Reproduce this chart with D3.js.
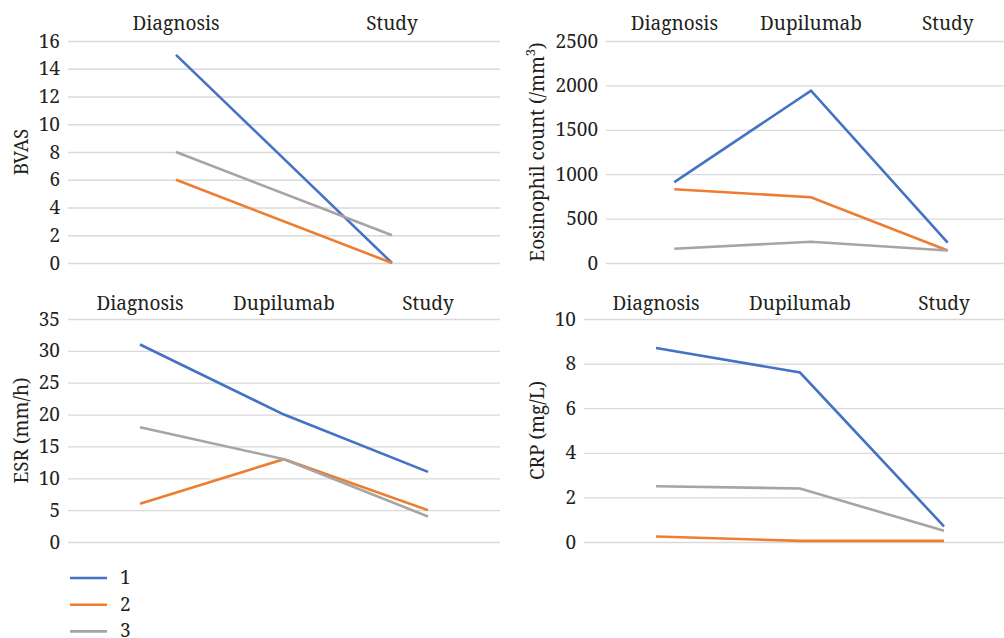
<!DOCTYPE html>
<head>
  <meta charset="utf-8">
  <title>BVAS, eosinophils, ESR, CRP</title>
  <style>
    body { margin: 0; background: #fff; }
  </style>
</head>
<body>
<script src="https://cdn.jsdelivr.net/npm/d3@7"></script>
<script>

    // categories for each panel
    var bvasCats = ["Diagnosis", "Study"];
    var timeCats = ["Diagnosis", "Dupilumab", "Study"];
    var seriesNames = ["1", "2", "3"];
    var colors = ["#4472c4", "#ed7d31", "#a5a5a5"];

    // values, one array per patient
    var bvas1 = [15, 0], bvas2 = [6, 0], bvas3 = [8, 2];
    var eos1 = [910, 1940, 230], eos2 = [830, 740, 140], eos3 = [160, 240, 140];
    var esr1 = [31, 20, 11], esr2 = [6, 13, 5], esr3 = [18, 13, 4];
    var crp1 = [8.7, 7.6, 0.7], crp2 = [0.25, 0.05, 0.05], crp3 = [2.5, 2.4, 0.5];

    var bvasTicks = [0, 2, 4, 6, 8, 10, 12, 14, 16];
    var eosTicks = [0, 500, 1000, 1500, 2000, 2500];
    var esrTicks = [0, 5, 10, 15, 20, 25, 30, 35];
    var crpTicks = [0, 2, 4, 6, 8, 10];

    var W = 1004, H = 638;
    var FONT = "'Noto Serif', 'Liberation Serif', serif",
        FS = "19px",
        INK = "#231f20";

    var svg = d3.select("body").append("svg")
        .attr("width", W)
        .attr("height", H);

    var panels = [
      { cats: bvasCats, series: [bvas1, bvas2, bvas3], ticks: bvasTicks, label: "BVAS",
        x0: 68, x1: 500, top: 41, bottom: 263, catY: 30, labelX: 28 },
      { cats: timeCats, series: [eos1, eos2, eos3], ticks: eosTicks, label: "Eosinophil count (/mm",
        sup: "3", x0: 606, x1: 1016, top: 41, bottom: 263, catY: 30, labelX: 544 },
      { cats: timeCats, series: [esr1, esr2, esr3], ticks: esrTicks, label: "ESR (mm/h)",
        x0: 68, x1: 500, top: 319, bottom: 542, catY: 310, labelX: 28 },
      { cats: timeCats, series: [crp1, crp2, crp3], ticks: crpTicks, label: "CRP (mg/L)",
        x0: 584, x1: 1016, top: 319, bottom: 542, catY: 310, labelX: 544 }
    ];

    panels.forEach(function(p) {
      var g = svg.append("g");

      var x = d3.scaleBand().domain(p.cats).range([p.x0, p.x1]);
      var y = d3.scaleLinear()
          .domain([0, d3.max(p.ticks)])
          .range([p.bottom, p.top]);

      // gridlines + tick labels
      var yAxis = d3.axisLeft(y)
          .tickValues(p.ticks)
          .tickFormat(d3.format("d"))
          .tickSize(-(p.x1 - p.x0))
          .tickPadding(8);
      var ga = g.append("g")
          .attr("transform", "translate(" + p.x0 + ",0)")
          .call(yAxis);
      ga.select(".domain").remove();
      ga.selectAll(".tick line").attr("stroke", "#d9d9d9").attr("stroke-width", 1.3);
      ga.selectAll(".tick text")
          .attr("fill", INK)
          .style("font-size", FS)
          .style("font-family", FONT);

      // category labels on top
      g.selectAll(".cat")
          .data(p.cats)
          .enter().append("text")
          .attr("x", function(d) { return x(d) + x.bandwidth() / 2; })
          .attr("y", p.catY)
          .attr("text-anchor", "middle")
          .attr("fill", INK)
          .style("font-size", FS)
          .style("font-family", FONT)
          .text(function(d) { return d; });

      // y axis title
      var yMid = (p.top + p.bottom) / 2;
      var t = g.append("text")
          .attr("transform", "translate(" + p.labelX + "," + yMid + ") rotate(-90)")
          .attr("text-anchor", "middle")
          .attr("fill", INK)
          .style("font-size", FS)
          .style("font-family", FONT)
          .text(p.label);
      if (p.sup) {
        t.append("tspan").attr("baseline-shift", "super").style("font-size", "13px").text(p.sup);
        t.append("tspan").text(")");
      }

      var line = d3.line()
          .x(function(d, i) { return x(p.cats[i]) + x.bandwidth() / 2; })
          .y(function(d) { return y(d); });

      p.series.forEach(function(s, i) {
        g.append("path")
            .datum(s)
            .attr("fill", "none")
            .attr("stroke", colors[i])
            .attr("stroke-width", 2.6)
            .attr("d", line);
      });
    });

    // legend
    var legend = svg.append("g");
    seriesNames.forEach(function(name, i) {
      var ly = 578 + i * 26.7;
      legend.append("line")
          .attr("x1", 70).attr("x2", 107)
          .attr("y1", ly).attr("y2", ly)
          .attr("stroke", colors[i])
          .attr("stroke-width", 2.6);
      legend.append("text")
          .attr("x", 120)
          .attr("y", ly + 6)
          .attr("fill", INK)
          .style("font-size", FS)
          .style("font-family", FONT)
          .text(name);
    });

</script>
</body>
